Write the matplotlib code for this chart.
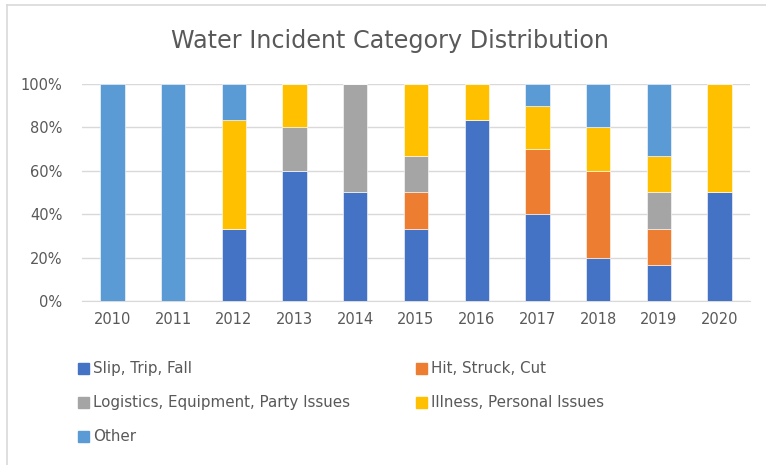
import matplotlib.pyplot as plt
import numpy as np
from matplotlib.patches import Rectangle
from matplotlib.lines import Line2D

years = ['2010', '2011', '2012', '2013', '2014', '2015', '2016', '2017', '2018', '2019', '2020']
slip = [0, 0, 33.3, 60, 50, 33.3, 83.3, 40, 20, 16.7, 50]
hit = [0, 0, 0, 0, 0, 16.7, 0, 30, 40, 16.7, 0]
logistics = [0, 0, 0, 20, 50, 16.7, 0, 0, 0, 16.7, 0]
illness = [0, 0, 50, 20, 0, 33.3, 16.7, 20, 20, 16.7, 50]
other = [100, 100, 16.7, 0, 0, 0, 0, 10, 20, 33.3, 0]

names = ['Slip, Trip, Fall', 'Hit, Struck, Cut', 'Logistics, Equipment, Party Issues',
         'Illness, Personal Issues', 'Other']
colors = ['#4472C4', '#ED7D31', '#A5A5A5', '#FFC000', '#5B9BD5']
series = [slip, hit, logistics, illness, other]

W, H = 766, 465
fig = plt.figure(figsize=(W / 100, H / 100), dpi=100)
ax = fig.add_axes([82 / W, 1 - 301 / H, (750 - 82) / W, (301 - 84) / H])

x = np.arange(len(years))
bottom = np.zeros(len(years))
for vals, c, n in zip(series, colors, names):
    v = np.array(vals)
    ax.bar(x, v, 0.4, bottom=bottom, color=c, label=n,
           edgecolor='white', linewidth=0.4, zorder=3)
    bottom += v

ax.set_xlim(-0.5, len(years) - 0.5)
ax.set_ylim(0, 100)
ax.set_yticks(range(0, 101, 20))
ax.set_yticklabels([f'{t}%' for t in range(0, 101, 20)])
ax.set_xticks(x)
ax.set_xticklabels(years)
ax.tick_params(length=0, labelsize=10.5, colors='#595959', pad=8)
ax.tick_params(axis='y', pad=14)
ax.grid(axis='y', color='#D9D9D9', linewidth=1, zorder=0)
for s in ['top', 'right', 'left']:
    ax.spines[s].set_visible(False)
ax.spines['bottom'].set_color('#D9D9D9')

fig.text(390 / W, 1 - 41 / H, 'Water Incident Category Distribution',
         ha='center', va='center', fontsize=17.2, color='#595959')

# legend, drawn by hand to match the Excel layout
leg_pos = [(78, 368), (416, 368), (78, 402), (416, 402), (78, 436)]
for (lx, ly), c, n in zip(leg_pos, colors, names):
    fig.add_artist(Rectangle((lx / W, 1 - (ly + 5.5) / H), 11 / W, 11 / H,
                             transform=fig.transFigure, color=c))
    fig.text((lx + 15) / W, 1 - ly / H, n, ha='left', va='center',
             fontsize=10.9, color='#595959')

# chart border
fig.add_artist(Line2D([7 / W, 1], [1 - 5 / H, 1 - 5 / H], transform=fig.transFigure,
                      color='#D9D9D9', linewidth=1.2))
fig.add_artist(Line2D([7 / W, 7 / W], [0, 1 - 5 / H], transform=fig.transFigure,
                      color='#D9D9D9', linewidth=1.2))

fig.savefig('out.png', dpi=100)
